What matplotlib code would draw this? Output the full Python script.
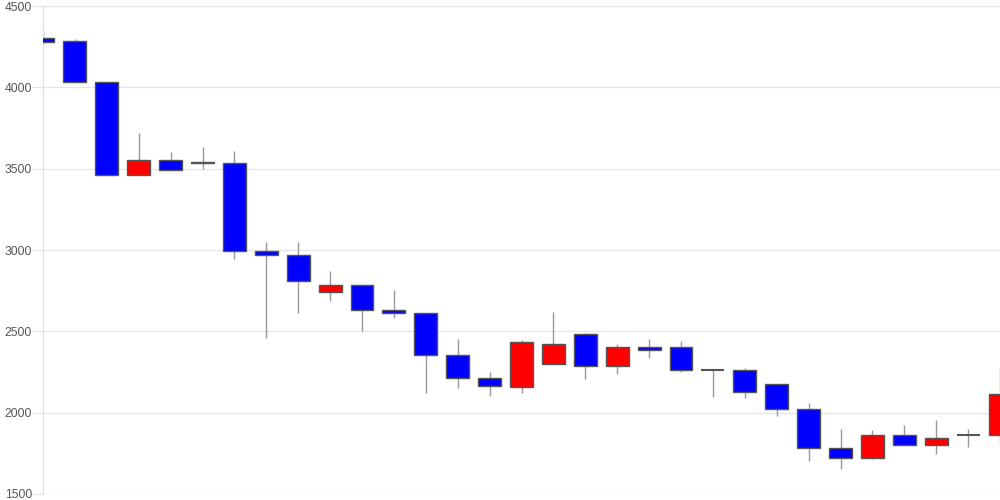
import matplotlib.pyplot as plt

opens  = [4303, 4283, 4031, 3461, 3553, 3543, 3533, 2992, 2971, 2740, 2783, 2631, 2611, 2353, 2211, 2160,
          2299, 2484, 2289, 2402, 2402, 2262, 2262, 2174, 2021, 1781, 1722, 1861, 1799, 1861, 1861]
highs  = [4352, 4300, 4031, 3721, 3602, 3635, 3610, 3051, 3051, 2871, 2783, 2752, 2611, 2451, 2250, 2445,
          2621, 2492, 2422, 2451, 2441, 2262, 2272, 2174, 2061, 1900, 1894, 1924, 1953, 1902, 2272]
lows   = [4250, 4031, 3461, 3461, 3490, 3500, 2945, 2461, 2611, 2688, 2500, 2580, 2121, 2152, 2100, 2119,
          2299, 2209, 2240, 2338, 2252, 2098, 2092, 1981, 1703, 1652, 1714, 1799, 1744, 1791, 1822]
closes = [4281, 4031, 3461, 3553, 3490, 3533, 2992, 2971, 2811, 2783, 2631, 2611, 2353, 2211, 2162, 2433,
          2422, 2289, 2402, 2387, 2261, 2262, 2129, 2021, 1781, 1722, 1861, 1799, 1842, 1861, 2113]
yticks = [1500, 2000, 2500, 3000, 3500, 4000, 4500]

plt.rcParams['font.family'] = ['Liberation Sans', 'DejaVu Sans']

fig = plt.figure(figsize=(10, 5), dpi=100)
ax = fig.add_axes([0.043, 0.012, 0.957, 0.976])

x = list(range(len(opens)))
w = 0.72
for i in x:
    o, h, l, c = opens[i], highs[i], lows[i], closes[i]
    ax.vlines(i, l, h, color='#999999', linewidth=1, zorder=2)
    if o == c:
        ax.hlines(o, i - w / 2, i + w / 2, color='#555555', linewidth=1.5, zorder=3)
        continue
    col = '#ff0000' if c > o else '#0000ff'
    ax.bar(i, abs(c - o), bottom=min(o, c), width=w, color=col,
           edgecolor='#555555', linewidth=1, zorder=3)

ax.set_xlim(0, 30)
ax.set_ylim(1500, 4500)
ax.set_yticks(yticks)
ax.set_xticks([])
ax.grid(axis='y', color='#e6e6e6', linewidth=1, zorder=0)
for s in ['top', 'right', 'bottom']:
    ax.spines[s].set_visible(False)
ax.spines['left'].set_color('#e0e0e0')
ax.tick_params(axis='y', length=8, color='#e0e0e0', labelsize=8.7, labelcolor='#555555', pad=0)

plt.savefig('out.png', dpi=100)
